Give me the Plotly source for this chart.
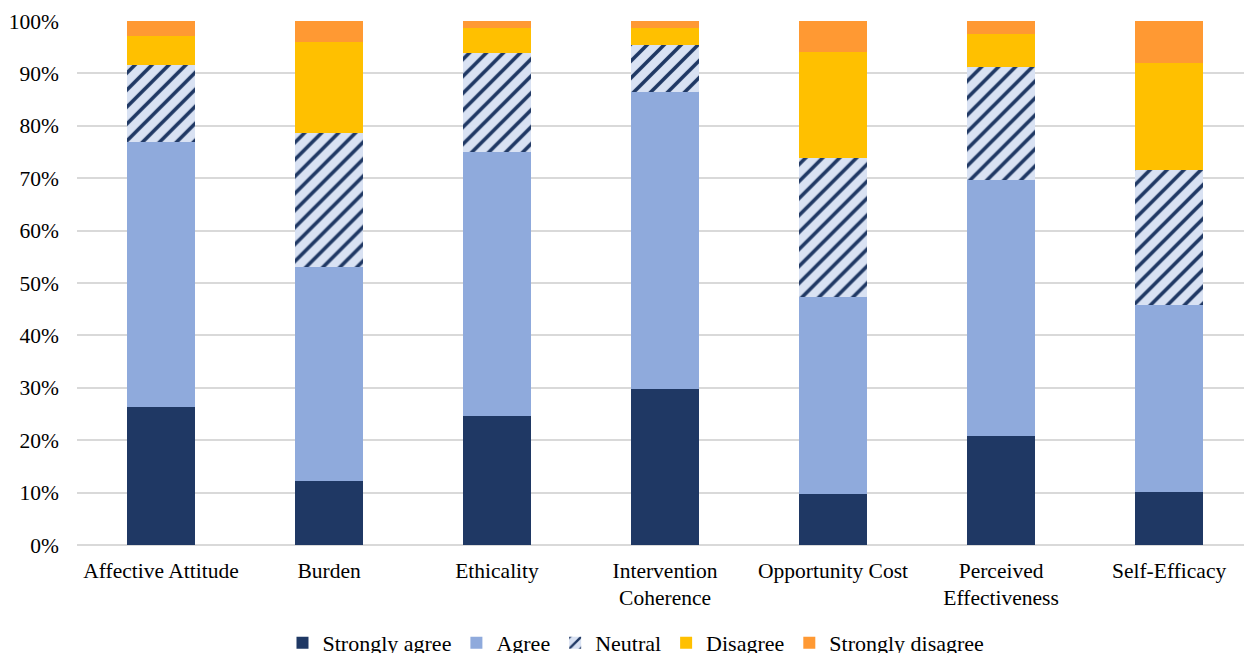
import plotly.graph_objects as go

categories = ["Affective Attitude", "Burden", "Ethicality", "Intervention<br>Coherence",
              "Opportunity Cost", "Perceived<br>Effectiveness", "Self-Efficacy"]

strongly_agree = [26.3, 12.2, 24.6, 29.8, 9.7, 20.8, 10.1]
agree = [50.6, 40.9, 50.4, 56.7, 37.7, 48.9, 35.7]
neutral = [14.7, 25.5, 18.9, 8.9, 26.5, 21.5, 25.8]
disagree = [5.5, 17.4, 4.8, 3.3, 20.2, 6.3, 20.3]
strongly_disagree = [2.9, 4.0, 1.3, 1.3, 5.9, 2.5, 8.1]

series_names = ["Strongly agree", "Agree", "Neutral", "Disagree", "Strongly disagree"]
series_values = [strongly_agree, agree, neutral, disagree, strongly_disagree]
colors = ["#1F3864", "#8FAADC", "#D9E2F3", "#FFC000", "#FF9933"]

tick_vals = [0, 10, 20, 30, 40, 50, 60, 70, 80, 90, 100]
tick_text = [f"{v}%" for v in tick_vals]

FONT = "Liberation Serif, Times New Roman, serif"

fig = go.Figure()
for name, vals, col in zip(series_names, series_values, colors):
    marker = dict(color=col, line=dict(width=0))
    if name == "Neutral":
        marker["pattern"] = dict(shape="/", fgcolor="#1F3864", bgcolor="#D9E2F3",
                                 fillmode="replace", size=12, solidity=0.3)
    fig.add_trace(go.Bar(x=list(range(len(categories))), y=vals, name=name,
                         marker=marker, width=0.4))

fig.update_layout(
    barmode="stack",
    width=1244, height=653,
    margin=dict(l=77, r=0, t=21, b=108, autoexpand=False),
    plot_bgcolor="white", paper_bgcolor="white",
    font=dict(family=FONT, size=21.5, color="#000000"),
    showlegend=True,
    legend=dict(orientation="h", x=0.479, xanchor="center", y=-0.147, yanchor="top",
                font=dict(family=FONT, size=22, color="#000000"),
                traceorder="normal", itemwidth=30),
    xaxis=dict(tickmode="array", tickvals=list(range(len(categories))), ticktext=categories,
               range=[-0.5, 6.446], showgrid=False, showline=False, zeroline=False,
               ticks="", automargin=False, ticklabelstandoff=10,
               tickfont=dict(family=FONT, size=21.5)),
    yaxis=dict(range=[0, 100], tickvals=tick_vals, ticktext=tick_text,
               showgrid=True, gridcolor="#D9D9D9", gridwidth=1.5,
               zeroline=True, zerolinecolor="#D9D9D9", zerolinewidth=1.5,
               showline=False, ticks="", automargin=False, ticklabelstandoff=17,
               tickfont=dict(family=FONT, size=21.5)),
)

fig.write_html("out.html")
